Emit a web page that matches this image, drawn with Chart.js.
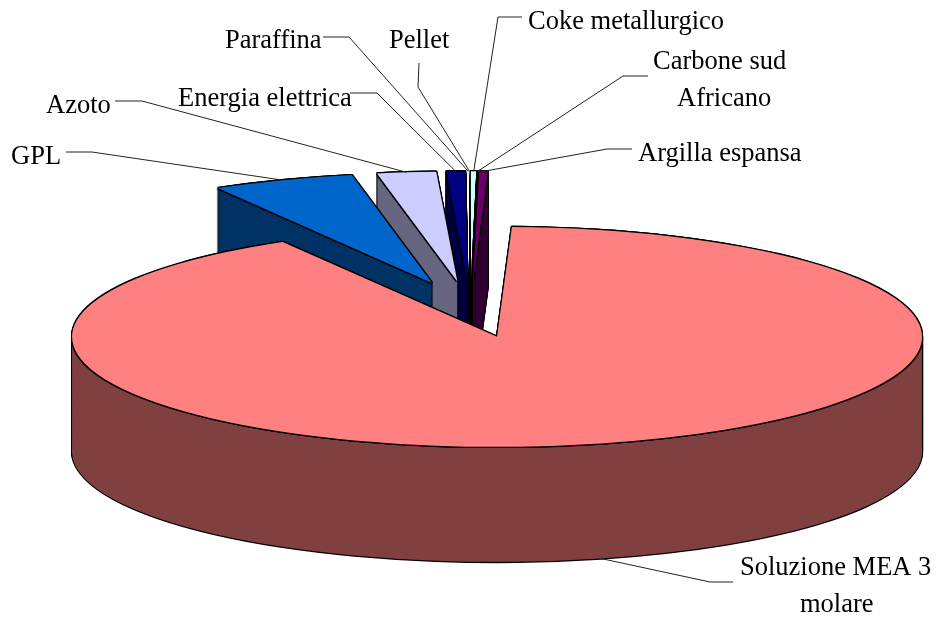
<!DOCTYPE html>
<html>
<head>
<meta charset="utf-8">
<title>Consumi</title>
<script src="https://cdn.jsdelivr.net/npm/chart.js@4"></script>
<style>
    html, body { margin: 0; padding: 0; background: #fff; }
    canvas { display: block; }
</style>
</head>
<body>
<canvas id="chart" width="936" height="617"></canvas>
<script>
// Chart data, share of each item in percent
const categories = ['Soluzione MEA 3 molare', 'GPL', 'Azoto', 'Energia elettrica', 'Paraffina', 'Pellet', 'Coke metallurgico', 'Carbone sud Africano', 'Argilla espansa'];
const shares = [91.03, 5.39, 2.236, 0.708, 0.0375, 0.0375, 0.217, 0.0194, 0.328];
// null: too thin to show a wedge, only the leader line is drawn
const topColors = ['#FF8080', '#0066CC', '#CCCCFF', '#000080', null, null, '#CCFFFF', '#000000', '#660066'];
const wallColors = ['#804040', '#003366', '#666680', '#000040', null, null, '#000000', '#000000', '#330033'];

// Pie look: radius, vertical squash, wall height and slice explosion in px
const pieRadius = 425;
const squash = 110 / 425;
const wallDepth = 115;
const explode = 109;

// Text lines, and the bend of each leader line, per category
const labelLayout = [
    { lines: [['Soluzione MEA 3', 740, 575], ['molare', 800, 612]], leader: [[733, 582], [710, 582]] },
    { lines: [['GPL', 11, 164]], leader: [[66, 152], [92, 152]] },
    { lines: [['Azoto', 46, 113]], leader: [[115, 101], [142, 101]] },
    { lines: [['Energia elettrica', 178, 106]], leader: [[350, 93], [377, 93]] },
    { lines: [['Paraffina', 225, 48]], leader: [[323, 37], [349, 37]] },
    { lines: [['Pellet', 389, 48]], leader: [[419, 63], [418, 87]] },
    { lines: [['Coke metallurgico', 528, 29]], leader: [[522, 17], [498, 17]] },
    { lines: [['Carbone sud', 653, 69], ['Africano', 677, 106]], leader: [[648, 76], [623, 76]] },
    { lines: [['Argilla espansa', 638, 161]], leader: [[632, 149], [607, 149]] }
];

function midAngle(arc) {
    return (arc.startAngle + arc.endAngle) / 2;
}

// Draw one arc element in a flat colour, moved by dx/dy screen pixels
function stamp(ctx, arc, color, dx, dy) {
    const saved = arc.options;
    arc.options = Object.assign({}, saved, { backgroundColor: color, borderColor: color, borderWidth: 0, offset: 0, spacing: 0 });
    ctx.save();
    ctx.translate(dx, dy / squash);
    arc.draw(ctx);
    ctx.restore();
    arc.options = saved;
}

function drawSlice(ctx, arc, index) {
    if (!topColors[index]) {
        return;
    }
    const mid = midAngle(arc);
    ctx.save();
    // squash around the pie centre, then push the slice out along its middle
    ctx.translate(arc.x, arc.y);
    ctx.scale(1, squash);
    ctx.translate(-arc.x, -arc.y);
    ctx.translate(Math.cos(mid) * explode, Math.sin(mid) * explode);

    // black rim first, the coloured wall and top go over it
    for (let d = wallDepth; d >= 0; d -= 1) {
        stamp(ctx, arc, '#000', -1.1, d);
        stamp(ctx, arc, '#000', 1.1, d);
    }
    stamp(ctx, arc, '#000', 0, wallDepth + 1.3);
    // the big slice has no sharp corner on show, few layers keep its wall flat
    const wallStep = arc.circumference > Math.PI ? 5 : 1;
    for (let d = wallDepth; d > 0; d -= wallStep) {
        stamp(ctx, arc, wallColors[index], 0, d);
    }
    [[-1, 0], [1, 0], [0, -1], [0, 1], [-1, -1], [1, -1], [-1, 1], [1, 1]].forEach(([dx, dy]) => {
        stamp(ctx, arc, '#000', dx * 1.1, dy * 1.2);
    });
    stamp(ctx, arc, topColors[index], 0, 0);
    ctx.restore();
}

function drawLabels(chart) {
    const ctx = chart.ctx;
    const arcs = chart.getDatasetMeta(0).data;
    ctx.save();
    labelLayout.forEach((label, i) => {
        const arc = arcs[i];
        const mid = midAngle(arc);
        // leader line ends on the rim at the middle of the slice
        const reach = explode + pieRadius;
        const endX = arc.x + Math.cos(mid) * reach;
        let endY = arc.y + Math.sin(mid) * reach * squash;
        if (Math.sin(mid) > 0.5) {
            endY += wallDepth;
        }
        ctx.beginPath();
        ctx.moveTo(label.leader[0][0], label.leader[0][1]);
        ctx.lineTo(label.leader[1][0], label.leader[1][1]);
        ctx.lineTo(endX, endY);
        ctx.strokeStyle = '#222';
        ctx.lineWidth = 1;
        ctx.stroke();

        ctx.fillStyle = '#000';
        ctx.font = '26.5px "Liberation Serif", serif';
        ctx.textAlign = 'left';
        ctx.textBaseline = 'alphabetic';
        label.lines.forEach(([text, x, y]) => ctx.fillText(text, x, y));
    });
    ctx.restore();
}

const pie3d = {
    id: 'pie3d',
    beforeDatasetsDraw(chart) {
        const arcs = chart.getDatasetMeta(0).data;
        const ctx = chart.ctx;
        // back slices first, the ones furthest from the top of the pie go last
        const order = arcs.map((arc, i) => i).sort((a, b) => {
            const away = arc => Math.abs(Math.atan2(Math.cos(midAngle(arc)), -Math.sin(midAngle(arc))));
            return away(arcs[a]) - away(arcs[b]);
        });
        order.forEach(i => drawSlice(ctx, arcs[i], i));
        drawLabels(chart);
        return false;
    }
};

new Chart(document.getElementById('chart').getContext('2d'), {
    type: 'pie',
    data: {
        labels: categories,
        datasets: [{
            data: shares,
            backgroundColor: topColors,
            borderWidth: 0
        }]
    },
    options: {
        responsive: false,
        animation: false,
        rotation: 2,
        radius: pieRadius,
        layout: { padding: { left: 4.8, top: 2 } },
        plugins: {
            legend: { display: false },
            tooltip: { enabled: false }
        }
    },
    plugins: [pie3d]
});
</script>
</body>
</html>
